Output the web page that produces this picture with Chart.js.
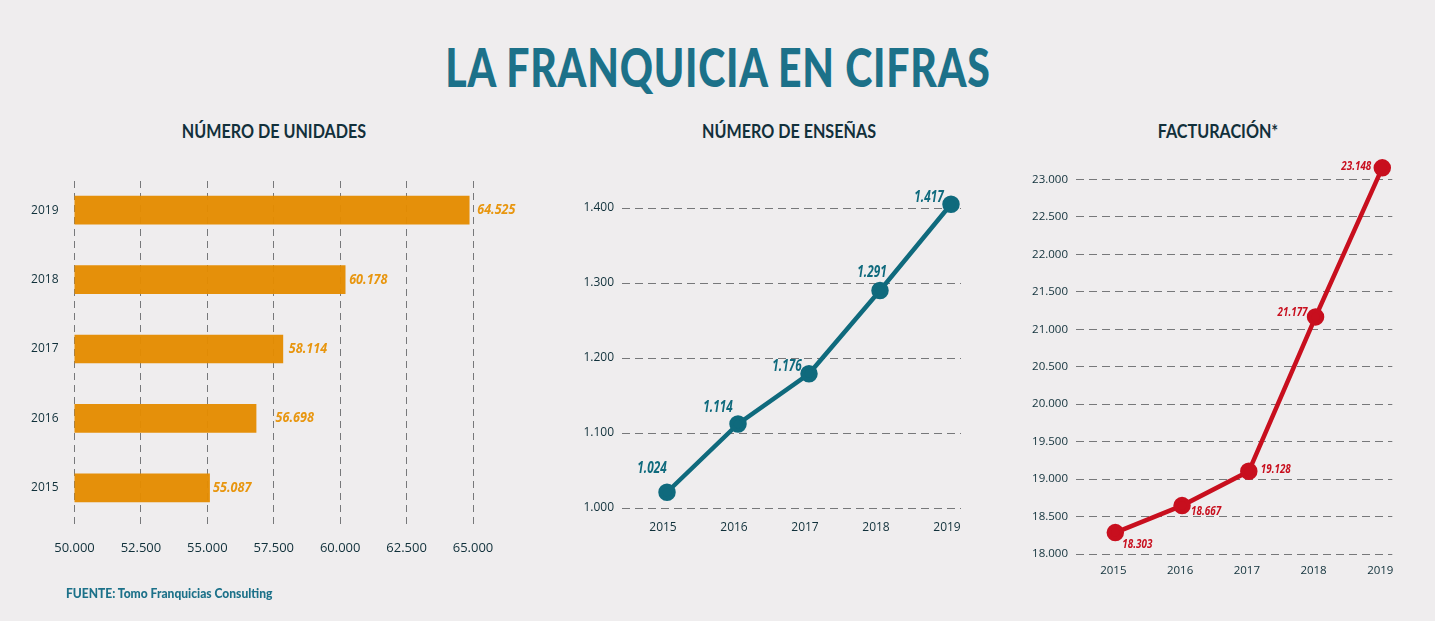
<!DOCTYPE html>
<html lang="es">
<head>
<meta charset="utf-8">
<title>La franquicia en cifras</title>
<script src="https://cdn.jsdelivr.net/npm/chart.js@4"></script>
<style>
  html, body { margin: 0; padding: 0; background: #efedee; }
  body { width: 1435px; height: 621px; position: relative; overflow: hidden; }
  canvas { position: absolute; top: 0; }
  #titulo {
    position: absolute; left: 218px; width: 1000px; top: 34px; margin: 0;
    text-align: center; color: #1c7189; font: 900 54px/66px Lato, sans-serif;
    letter-spacing: 1px; transform: scaleX(.76);
  }
  h2 {
    position: absolute; top: 119px; width: 400px; margin: 0; text-align: center;
    color: #12303b; font: bold 19px/24px Lato, sans-serif; transform: scaleX(.85);
  }
  #fuente {
    position: absolute; left: 66px; top: 584px; color: #1c7189;
    font: 900 14px/18px Lato, sans-serif; white-space: nowrap;
    transform: scaleX(.86); transform-origin: left center;
  }
</style>
</head>
<body>
<h1 id="titulo">LA FRANQUICIA EN CIFRAS</h1>
<h2 style="left:74px">NÚMERO DE UNIDADES</h2>
<h2 style="left:589px">NÚMERO DE ENSEÑAS</h2>
<h2 style="left:1018px">FACTURACIÓN*</h2>
<canvas id="unidades" width="548" height="621" style="left:0"></canvas>
<canvas id="ensenas" width="458" height="621" style="left:560px"></canvas>
<canvas id="facturacion" width="376" height="621" style="left:1030px"></canvas>
<div id="fuente">FUENTE: Tomo Franquicias Consulting</div>
<script>
const years = [2015, 2016, 2017, 2018, 2019];

// values follow where the marks are drawn in the picture, the printed figures are kept apart
const unidadesValues = [55083, 56834, 57843, 60188, 64857];
const unidadesLabels = ['55.087', '56.698', '58.114', '60.178', '64.525'];
const unidadesTicks = [50000, 52500, 55000, 57500, 60000, 62500, 65000];

const ensenasValues = [1021, 1112, 1179, 1290, 1405];
const ensenasLabels = ['1.024', '1.114', '1.176', '1.291', '1.417'];
const ensenasTicks = [1000, 1100, 1200, 1300, 1400];

const facturacionValues = [18286, 18646, 19104, 21165, 23155];
const facturacionLabels = ['18.303', '18.667', '19.128', '21.177', '23.148'];
const facturacionTicks = [18000, 18500, 19000, 19500, 20000, 20500, 21000, 21500, 22000, 22500, 23000];

const INK = '#10303a';
const GRID = '#77787a';
const TICK_FONT = '"Open Sans", sans-serif';

// Draws the printed figure next to each mark
const valueLabels = (texts, cfg) => ({
  id: 'valueLabels',
  afterDatasetsDraw(chart) {
    const ctx = chart.ctx;
    chart.getDatasetMeta(0).data.forEach((el, i) => {
      ctx.save();
      ctx.font = cfg.font;
      ctx.fillStyle = cfg.color;
      ctx.textAlign = cfg.align;
      ctx.textBaseline = 'middle';
      ctx.translate(el.x + cfg.dx[i], el.y + cfg.dy[i]);
      ctx.scale(cfg.squeeze, 1); // the original figures are condensed
      ctx.fillText(texts[i], 0, 0);
      ctx.restore();
    });
  },
});

const number = (v) => v.toLocaleString('de-DE');
const plainYear = (v) => String(v);
const ticksFrom = (values) => (axis) => { axis.ticks = values.map((value) => ({ value })); };
const hidden = { legend: { display: false }, tooltip: { enabled: false } };

new Chart(document.getElementById('unidades'), {
  type: 'bar',
  data: {
    datasets: [{
      data: years.map((y, i) => ({ x: unidadesValues[i], y })),
      backgroundColor: 'rgba(228, 139, 0, 0.96)',
      barThickness: 28,
    }],
  },
  options: {
    indexAxis: 'y',
    responsive: false,
    animation: false,
    layout: { padding: { top: 181, right: 75, bottom: 65 } },
    plugins: hidden,
    scales: {
      x: {
        type: 'linear',
        min: 50000,
        max: 65000,
        afterBuildTicks: ticksFrom(unidadesTicks),
        afterFit: (s) => { s.height = 30; },
        border: { display: false, dash: [7, 5] },
        grid: { color: GRID, drawTicks: false },
        ticks: { maxRotation: 0, autoSkip: false, padding: 14, callback: number, color: INK, font: { family: TICK_FONT, size: 13, weight: 500 } },
      },
      y: {
        type: 'linear',
        offset: false,
        min: 2014.45,
        max: 2019.42,
        afterBuildTicks: ticksFrom(years),
        afterFit: (s) => { s.width = 74.5; },
        border: { display: false },
        grid: { display: false, offset: false },
        ticks: { padding: 8, callback: plainYear, color: INK, font: { family: TICK_FONT, size: 12, weight: 500 } },
      },
    },
  },
  plugins: [valueLabels(unidadesLabels, {
    font: 'italic 700 14px "Open Sans"',
    color: '#e8960f',
    squeeze: 0.9,
    align: 'left',
    dx: [3.5, 19.5, 6, 4, 8],
    dy: [0, 0, 0, 0, 0],
  })],
});

const lineOptions = (cfg) => ({
  responsive: false,
  animation: false,
  layout: { padding: { top: cfg.top, right: cfg.right, bottom: cfg.bottom } },
  plugins: hidden,
  scales: {
    x: {
      type: 'linear',
      min: cfg.xMin,
      max: cfg.xMax,
      afterBuildTicks: ticksFrom(years),
      afterFit: (s) => { s.height = 30; },
      border: { display: false },
      grid: { display: false, drawTicks: false },
      ticks: { padding: cfg.xPad, labelOffset: cfg.xShift, maxRotation: 0, callback: plainYear, color: INK, font: { family: TICK_FONT, size: cfg.tickSize, weight: 500 } },
    },
    y: {
      min: cfg.yMin,
      max: cfg.yMax,
      afterBuildTicks: ticksFrom(cfg.ticks),
      afterFit: (s) => { s.width = cfg.yWidth; },
      border: { display: false, dash: [8, 5] },
      grid: { color: GRID, drawTicks: false },
      ticks: { padding: 8, callback: number, color: INK, font: { family: TICK_FONT, size: cfg.tickSize, weight: 500 } },
    },
  },
});

const lineDataset = (values, color) => ({
  data: years.map((x, i) => ({ x, y: values[i] })),
  borderColor: color,
  backgroundColor: color,
  borderWidth: 4.5,
  pointRadius: 6.5,
  tension: 0,
  clip: false,
});

new Chart(document.getElementById('ensenas'), {
  type: 'line',
  data: { datasets: [lineDataset(ensenasValues, '#0f6a7d')] },
  options: lineOptions({
    top: 190, right: 57, bottom: 83,
    xMin: 2014.366, xMax: 2019.141, xPad: 12, xShift: -4,
    yMin: 1000, yMax: 1424, ticks: ensenasTicks, yWidth: 62, tickSize: 12,
  }),
  plugins: [valueLabels(ensenasLabels, {
    font: 'italic 700 15.5px "Open Sans"',
    color: '#0f6a7d',
    squeeze: 0.76,
    align: 'center',
    dx: [-15, -20, -22, -8, -22],
    dy: [-24, -16, -7, -18, -7],
  })],
});

new Chart(document.getElementById('facturacion'), {
  type: 'line',
  data: { datasets: [lineDataset(facturacionValues, '#c80f1e')] },
  options: lineOptions({
    top: 160, right: 13.7, bottom: 37,
    xMin: 2014.411, xMax: 2019.15, xPad: 10, xShift: -2,
    yMin: 18000, yMax: 23260, ticks: facturacionTicks, yWidth: 46, tickSize: 11.5,
  }),
  plugins: [valueLabels(facturacionLabels, {
    font: 'italic 700 13px "Open Sans"',
    color: '#c80f1e',
    squeeze: 0.76,
    align: 'center',
    dx: [22, 24, 27, -23, -26],
    dy: [12, 6, -2, -5, -2],
  })],
});
</script>
</body>
</html>
